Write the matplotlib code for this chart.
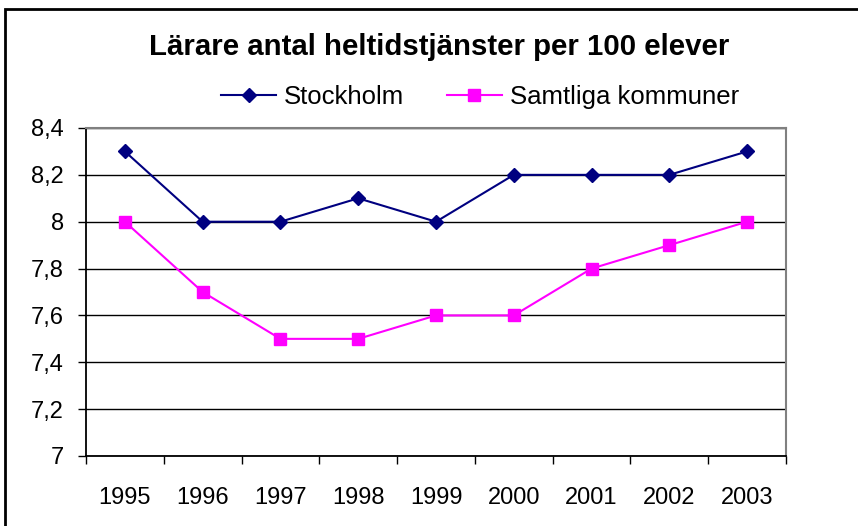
import matplotlib
matplotlib.use("Agg")
import matplotlib.pyplot as plt
from matplotlib.ticker import FixedLocator, FuncFormatter
import numpy as np

years = ["1995", "1996", "1997", "1998", "1999", "2000", "2001", "2002", "2003"]
stockholm = [8.3, 8.0, 8.0, 8.1, 8.0, 8.2, 8.2, 8.2, 8.3]
samtliga = [8.0, 7.7, 7.5, 7.5, 7.6, 7.6, 7.8, 7.9, 8.0]
y_ticks = [7.0, 7.2, 7.4, 7.6, 7.8, 8.0, 8.2, 8.4]

plt.rcParams['font.family'] = ['Liberation Sans', 'DejaVu Sans']

fig = plt.figure(figsize=(8.58, 5.26), dpi=100)
ax = fig.add_axes([86/858, 1-456/526, 700/858, 328/526])

x = np.arange(len(years))
ax.plot(x, stockholm, color="#000080", lw=1.5, marker="D", ms=7,
        mfc="#000080", mec="#000080", label="Stockholm", zorder=3)
ax.plot(x, samtliga, color="#FF00FF", lw=1.5, marker="s", ms=8,
        mfc="#FF00FF", mec="#FF00FF", label="Samtliga kommuner", zorder=3)

ax.set_xlim(-0.5, len(years) - 0.5)
ax.set_ylim(7.0, 8.4)
ax.set_yticks(y_ticks)
ax.yaxis.set_major_formatter(FuncFormatter(lambda v, p: ("%g" % round(v, 1)).replace(".", ",")))
ax.set_xticks(x)
ax.set_xticklabels(years)
ax.xaxis.set_minor_locator(FixedLocator(np.arange(-0.5, len(years), 1.0)))
ax.tick_params(axis="x", which="major", length=0, pad=22, labelsize=17)
ax.tick_params(axis="x", which="minor", length=6, width=1, color="black", direction="out")
ax.tick_params(axis="y", length=6, width=1, color="black", direction="out", labelsize=17, pad=10)

ax.grid(axis="y", color="black", lw=1)
ax.set_axisbelow(True)
for s in ["top", "right"]:
    ax.spines[s].set_color("#808080")
    ax.spines[s].set_linewidth(1.5)
for s in ["left", "bottom"]:
    ax.spines[s].set_color("black")
    ax.spines[s].set_linewidth(1.3)

fig.text(439/858, 1-47/526, "Lärare antal heltidstjänster per 100 elever",
         ha="center", va="center", fontsize=21.2, fontweight="bold")

leg = fig.legend(loc="center", bbox_to_anchor=(480/858, 1-97/526), ncol=2,
                 frameon=False, fontsize=18.5, handlelength=2.15, columnspacing=1.65,
                 handletextpad=0.3, borderaxespad=0, borderpad=0)

border = plt.Rectangle((5/858, -0.05), 1.0, 1 - 9/526 + 0.05, transform=fig.transFigure,
                       fill=False, edgecolor="black", lw=2, clip_on=False)
fig.patches.append(border)

fig.savefig("out.png", dpi=100)
